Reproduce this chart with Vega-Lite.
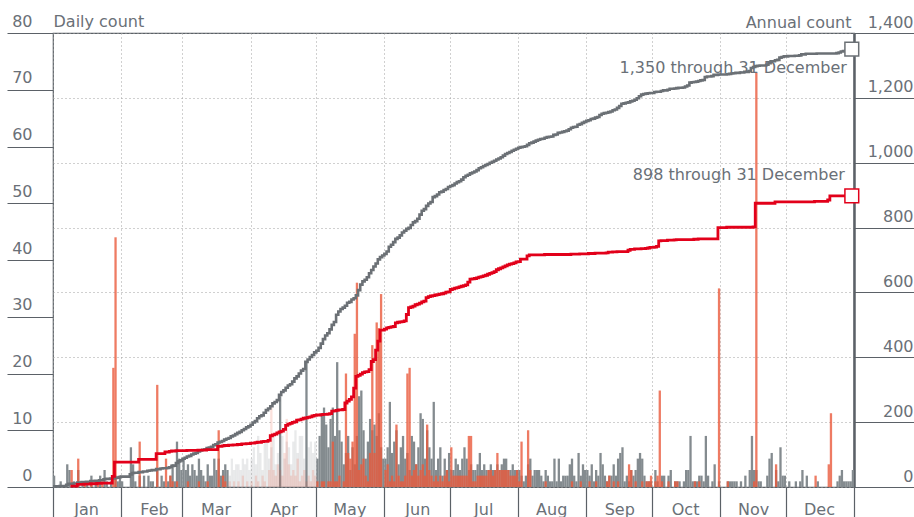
{
"$schema":"https://vega.github.io/schema/vega-lite/v6.json",
"width":801,"height":454,
"autosize":{"type":"none"},
"padding":{"left":53,"top":33,"right":60,"bottom":30},
"background":"white",
"config":{"view":{"stroke":"#5b6167","strokeWidth":1.2},"font":"DejaVu Sans","axis":{"labelFont":"DejaVu Sans","titleFont":"DejaVu Sans"}},
"datasets":{
"ends":[{"d":"2021-12-31","v":1350,"s":"total","label":"1,350 through 31 December"},{"d":"2021-12-31","v":898,"s":"sub","label":"898 through 31 December"}],
"daily":[
{"d":"2021-01-01","g":2,"o":0},{"d":"2021-01-02","g":0,"o":0},{"d":"2021-01-03","g":0,"o":0},{"d":"2021-01-04","g":1,"o":0},{"d":"2021-01-05","g":0,"o":0},{"d":"2021-01-06","g":0,"o":0},{"d":"2021-01-07","g":4,"o":0},{"d":"2021-01-08","g":3,"o":0},{"d":"2021-01-09","g":0,"o":3},{"d":"2021-01-10","g":1,"o":0},{"d":"2021-01-11","g":0,"o":0},{"d":"2021-01-12","g":3,"o":5},{"d":"2021-01-13","g":0,"o":0},{"d":"2021-01-14","g":1,"o":0},{"d":"2021-01-15","g":0,"o":1},{"d":"2021-01-16","g":1,"o":0},{"d":"2021-01-17","g":0,"o":0},{"d":"2021-01-18","g":2,"o":1},{"d":"2021-01-19","g":0,"o":0},{"d":"2021-01-20","g":1,"o":0},{"d":"2021-01-21","g":0,"o":1},{"d":"2021-01-22","g":2,"o":0},{"d":"2021-01-23","g":0,"o":1},{"d":"2021-01-24","g":3,"o":0},{"d":"2021-01-25","g":1,"o":0},{"d":"2021-01-26","g":0,"o":0},{"d":"2021-01-27","g":1,"o":0},{"d":"2021-01-28","g":0,"o":21},{"d":"2021-01-29","g":2,"o":44},{"d":"2021-01-30","g":1,"o":0},{"d":"2021-01-31","g":2,"o":0},
{"d":"2021-02-01","g":1,"o":0},{"d":"2021-02-02","g":0,"o":0},{"d":"2021-02-03","g":0,"o":0},{"d":"2021-02-04","g":0,"o":0},{"d":"2021-02-05","g":7,"o":0},{"d":"2021-02-06","g":4,"o":0},{"d":"2021-02-07","g":1,"o":0},{"d":"2021-02-08","g":0,"o":0},{"d":"2021-02-09","g":2,"o":8},{"d":"2021-02-10","g":0,"o":0},{"d":"2021-02-11","g":2,"o":0},{"d":"2021-02-12","g":0,"o":0},{"d":"2021-02-13","g":2,"o":0},{"d":"2021-02-14","g":1,"o":0},{"d":"2021-02-15","g":1,"o":0},{"d":"2021-02-16","g":0,"o":0},{"d":"2021-02-17","g":3,"o":18},{"d":"2021-02-18","g":0,"o":0},{"d":"2021-02-19","g":2,"o":0},{"d":"2021-02-20","g":1,"o":0},{"d":"2021-02-21","g":0,"o":5},{"d":"2021-02-22","g":1,"o":0},{"d":"2021-02-23","g":2,"o":2},{"d":"2021-02-24","g":4,"o":1},{"d":"2021-02-25","g":1,"o":0},{"d":"2021-02-26","g":8,"o":1},{"d":"2021-02-27","g":5,"o":0},{"d":"2021-02-28","g":3,"o":0},
{"d":"2021-03-01","g":5,"o":0},{"d":"2021-03-02","g":3,"o":0},{"d":"2021-03-03","g":4,"o":1},{"d":"2021-03-04","g":2,"o":0},{"d":"2021-03-05","g":4,"o":0},{"d":"2021-03-06","g":3,"o":0},{"d":"2021-03-07","g":2,"o":0},{"d":"2021-03-08","g":5,"o":1},{"d":"2021-03-09","g":3,"o":0},{"d":"2021-03-10","g":2,"o":0},{"d":"2021-03-11","g":1,"o":0},{"d":"2021-03-12","g":4,"o":1},{"d":"2021-03-13","g":2,"o":0},{"d":"2021-03-14","g":2,"o":0},{"d":"2021-03-15","g":5,"o":0},{"d":"2021-03-16","g":3,"o":0},{"d":"2021-03-17","g":5,"o":10},{"d":"2021-03-18","g":2,"o":0},{"d":"2021-03-19","g":3,"o":2},{"d":"2021-03-20","g":4,"o":1},{"d":"2021-03-21","g":3,"o":0},{"d":"2021-03-22","g":2,"o":1},{"d":"2021-03-23","g":5,"o":0},{"d":"2021-03-24","g":3,"o":1},{"d":"2021-03-25","g":4,"o":0},{"d":"2021-03-26","g":4,"o":1},{"d":"2021-03-27","g":3,"o":0},{"d":"2021-03-28","g":5,"o":2},{"d":"2021-03-29","g":4,"o":0},{"d":"2021-03-30","g":5,"o":1},{"d":"2021-03-31","g":3,"o":0},
{"d":"2021-04-01","g":5,"o":1},{"d":"2021-04-02","g":7,"o":0},{"d":"2021-04-03","g":4,"o":2},{"d":"2021-04-04","g":9,"o":1},{"d":"2021-04-05","g":6,"o":0},{"d":"2021-04-06","g":3,"o":2},{"d":"2021-04-07","g":8,"o":1},{"d":"2021-04-08","g":8,"o":0},{"d":"2021-04-09","g":5,"o":3},{"d":"2021-04-10","g":7,"o":14},{"d":"2021-04-11","g":9,"o":3},{"d":"2021-04-12","g":4,"o":2},{"d":"2021-04-13","g":6,"o":4},{"d":"2021-04-14","g":16,"o":3},{"d":"2021-04-15","g":9,"o":2},{"d":"2021-04-16","g":5,"o":6},{"d":"2021-04-17","g":8,"o":12},{"d":"2021-04-18","g":7,"o":4},{"d":"2021-04-19","g":4,"o":2},{"d":"2021-04-20","g":8,"o":3},{"d":"2021-04-21","g":10,"o":2},{"d":"2021-04-22","g":6,"o":5},{"d":"2021-04-23","g":9,"o":1},{"d":"2021-04-24","g":9,"o":2},{"d":"2021-04-25","g":5,"o":3},{"d":"2021-04-26","g":22,"o":1},{"d":"2021-04-27","g":7,"o":2},{"d":"2021-04-28","g":8,"o":1},{"d":"2021-04-29","g":6,"o":3},{"d":"2021-04-30","g":8,"o":2},
{"d":"2021-05-01","g":5,"o":1},{"d":"2021-05-02","g":9,"o":0},{"d":"2021-05-03","g":13,"o":1},{"d":"2021-05-04","g":14,"o":1},{"d":"2021-05-05","g":11,"o":0},{"d":"2021-05-06","g":7,"o":1},{"d":"2021-05-07","g":12,"o":1},{"d":"2021-05-08","g":14,"o":8},{"d":"2021-05-09","g":9,"o":1},{"d":"2021-05-10","g":22,"o":1},{"d":"2021-05-11","g":10,"o":2},{"d":"2021-05-12","g":8,"o":0},{"d":"2021-05-13","g":4,"o":1},{"d":"2021-05-14","g":6,"o":20},{"d":"2021-05-15","g":9,"o":6},{"d":"2021-05-16","g":3,"o":5},{"d":"2021-05-17","g":7,"o":8},{"d":"2021-05-18","g":4,"o":27},{"d":"2021-05-19","g":9,"o":36},{"d":"2021-05-20","g":16,"o":3},{"d":"2021-05-21","g":17,"o":4},{"d":"2021-05-22","g":10,"o":5},{"d":"2021-05-23","g":5,"o":2},{"d":"2021-05-24","g":8,"o":1},{"d":"2021-05-25","g":12,"o":6},{"d":"2021-05-26","g":10,"o":25},{"d":"2021-05-27","g":11,"o":6},{"d":"2021-05-28","g":9,"o":29},{"d":"2021-05-29","g":13,"o":28},{"d":"2021-05-30","g":7,"o":34},{"d":"2021-05-31","g":5,"o":0},
{"d":"2021-06-01","g":5,"o":3},{"d":"2021-06-02","g":7,"o":4},{"d":"2021-06-03","g":15,"o":1},{"d":"2021-06-04","g":6,"o":2},{"d":"2021-06-05","g":8,"o":1},{"d":"2021-06-06","g":10,"o":11},{"d":"2021-06-07","g":4,"o":2},{"d":"2021-06-08","g":7,"o":1},{"d":"2021-06-09","g":9,"o":1},{"d":"2021-06-10","g":5,"o":2},{"d":"2021-06-11","g":6,"o":20},{"d":"2021-06-12","g":3,"o":21},{"d":"2021-06-13","g":9,"o":2},{"d":"2021-06-14","g":8,"o":3},{"d":"2021-06-15","g":4,"o":4},{"d":"2021-06-16","g":7,"o":2},{"d":"2021-06-17","g":13,"o":3},{"d":"2021-06-18","g":12,"o":4},{"d":"2021-06-19","g":5,"o":2},{"d":"2021-06-20","g":10,"o":11},{"d":"2021-06-21","g":7,"o":3},{"d":"2021-06-22","g":5,"o":2},{"d":"2021-06-23","g":15,"o":1},{"d":"2021-06-24","g":3,"o":2},{"d":"2021-06-25","g":5,"o":1},{"d":"2021-06-26","g":7,"o":2},{"d":"2021-06-27","g":2,"o":1},{"d":"2021-06-28","g":5,"o":2},{"d":"2021-06-29","g":3,"o":3},{"d":"2021-06-30","g":6,"o":1},
{"d":"2021-07-01","g":3,"o":7},{"d":"2021-07-02","g":3,"o":2},{"d":"2021-07-03","g":5,"o":2},{"d":"2021-07-04","g":4,"o":2},{"d":"2021-07-05","g":3,"o":2},{"d":"2021-07-06","g":5,"o":2},{"d":"2021-07-07","g":7,"o":2},{"d":"2021-07-08","g":5,"o":2},{"d":"2021-07-09","g":3,"o":9},{"d":"2021-07-10","g":4,"o":9},{"d":"2021-07-11","g":3,"o":1},{"d":"2021-07-12","g":3,"o":1},{"d":"2021-07-13","g":4,"o":2},{"d":"2021-07-14","g":6,"o":2},{"d":"2021-07-15","g":3,"o":2},{"d":"2021-07-16","g":4,"o":2},{"d":"2021-07-17","g":3,"o":2},{"d":"2021-07-18","g":3,"o":3},{"d":"2021-07-19","g":4,"o":3},{"d":"2021-07-20","g":3,"o":2},{"d":"2021-07-21","g":3,"o":3},{"d":"2021-07-22","g":4,"o":6},{"d":"2021-07-23","g":3,"o":3},{"d":"2021-07-24","g":4,"o":3},{"d":"2021-07-25","g":5,"o":3},{"d":"2021-07-26","g":5,"o":3},{"d":"2021-07-27","g":3,"o":3},{"d":"2021-07-28","g":3,"o":2},{"d":"2021-07-29","g":4,"o":2},{"d":"2021-07-30","g":3,"o":2},{"d":"2021-07-31","g":3,"o":3},
{"d":"2021-08-01","g":3,"o":1},{"d":"2021-08-02","g":2,"o":8},{"d":"2021-08-03","g":1,"o":0},{"d":"2021-08-04","g":2,"o":0},{"d":"2021-08-05","g":4,"o":10},{"d":"2021-08-06","g":5,"o":3},{"d":"2021-08-07","g":2,"o":0},{"d":"2021-08-08","g":3,"o":0},{"d":"2021-08-09","g":3,"o":0},{"d":"2021-08-10","g":3,"o":0},{"d":"2021-08-11","g":2,"o":0},{"d":"2021-08-12","g":1,"o":0},{"d":"2021-08-13","g":3,"o":1},{"d":"2021-08-14","g":2,"o":0},{"d":"2021-08-15","g":1,"o":0},{"d":"2021-08-16","g":1,"o":0},{"d":"2021-08-17","g":5,"o":0},{"d":"2021-08-18","g":1,"o":0},{"d":"2021-08-19","g":5,"o":0},{"d":"2021-08-20","g":1,"o":0},{"d":"2021-08-21","g":2,"o":0},{"d":"2021-08-22","g":2,"o":0},{"d":"2021-08-23","g":2,"o":0},{"d":"2021-08-24","g":4,"o":0},{"d":"2021-08-25","g":5,"o":1},{"d":"2021-08-26","g":2,"o":0},{"d":"2021-08-27","g":1,"o":0},{"d":"2021-08-28","g":6,"o":0},{"d":"2021-08-29","g":2,"o":1},{"d":"2021-08-30","g":4,"o":0},{"d":"2021-08-31","g":3,"o":0},
{"d":"2021-09-01","g":3,"o":0},{"d":"2021-09-02","g":2,"o":1},{"d":"2021-09-03","g":4,"o":0},{"d":"2021-09-04","g":1,"o":0},{"d":"2021-09-05","g":3,"o":1},{"d":"2021-09-06","g":2,"o":0},{"d":"2021-09-07","g":6,"o":0},{"d":"2021-09-08","g":4,"o":0},{"d":"2021-09-09","g":2,"o":0},{"d":"2021-09-10","g":1,"o":1},{"d":"2021-09-11","g":2,"o":2},{"d":"2021-09-12","g":2,"o":0},{"d":"2021-09-13","g":4,"o":1},{"d":"2021-09-14","g":2,"o":0},{"d":"2021-09-15","g":5,"o":1},{"d":"2021-09-16","g":6,"o":0},{"d":"2021-09-17","g":7,"o":0},{"d":"2021-09-18","g":1,"o":0},{"d":"2021-09-19","g":2,"o":0},{"d":"2021-09-20","g":1,"o":4},{"d":"2021-09-21","g":3,"o":3},{"d":"2021-09-22","g":2,"o":0},{"d":"2021-09-23","g":3,"o":1},{"d":"2021-09-24","g":5,"o":0},{"d":"2021-09-25","g":6,"o":0},{"d":"2021-09-26","g":5,"o":1},{"d":"2021-09-27","g":2,"o":0},{"d":"2021-09-28","g":1,"o":1},{"d":"2021-09-29","g":1,"o":1},{"d":"2021-09-30","g":1,"o":2},
{"d":"2021-10-01","g":0,"o":0},{"d":"2021-10-02","g":3,"o":1},{"d":"2021-10-03","g":1,"o":2},{"d":"2021-10-04","g":0,"o":17},{"d":"2021-10-05","g":2,"o":1},{"d":"2021-10-06","g":2,"o":0},{"d":"2021-10-07","g":0,"o":0},{"d":"2021-10-08","g":2,"o":1},{"d":"2021-10-09","g":3,"o":0},{"d":"2021-10-10","g":0,"o":0},{"d":"2021-10-11","g":1,"o":1},{"d":"2021-10-12","g":1,"o":1},{"d":"2021-10-13","g":1,"o":0},{"d":"2021-10-14","g":0,"o":0},{"d":"2021-10-15","g":1,"o":0},{"d":"2021-10-16","g":3,"o":0},{"d":"2021-10-17","g":3,"o":0},{"d":"2021-10-18","g":9,"o":0},{"d":"2021-10-19","g":1,"o":0},{"d":"2021-10-20","g":1,"o":1},{"d":"2021-10-21","g":1,"o":0},{"d":"2021-10-22","g":2,"o":1},{"d":"2021-10-23","g":2,"o":0},{"d":"2021-10-24","g":1,"o":0},{"d":"2021-10-25","g":9,"o":0},{"d":"2021-10-26","g":2,"o":0},{"d":"2021-10-27","g":0,"o":0},{"d":"2021-10-28","g":1,"o":0},{"d":"2021-10-29","g":4,"o":0},{"d":"2021-10-30","g":0,"o":0},{"d":"2021-10-31","g":1,"o":35},
{"d":"2021-11-01","g":0,"o":0},{"d":"2021-11-02","g":0,"o":0},{"d":"2021-11-03","g":0,"o":0},{"d":"2021-11-04","g":1,"o":1},{"d":"2021-11-05","g":1,"o":0},{"d":"2021-11-06","g":1,"o":0},{"d":"2021-11-07","g":1,"o":0},{"d":"2021-11-08","g":1,"o":0},{"d":"2021-11-09","g":0,"o":0},{"d":"2021-11-10","g":1,"o":0},{"d":"2021-11-11","g":0,"o":0},{"d":"2021-11-12","g":2,"o":0},{"d":"2021-11-13","g":0,"o":0},{"d":"2021-11-14","g":3,"o":0},{"d":"2021-11-15","g":9,"o":0},{"d":"2021-11-16","g":3,"o":1},{"d":"2021-11-17","g":3,"o":73},{"d":"2021-11-18","g":1,"o":0},{"d":"2021-11-19","g":1,"o":0},{"d":"2021-11-20","g":0,"o":0},{"d":"2021-11-21","g":0,"o":0},{"d":"2021-11-22","g":2,"o":0},{"d":"2021-11-23","g":5,"o":0},{"d":"2021-11-24","g":6,"o":0},{"d":"2021-11-25","g":0,"o":0},{"d":"2021-11-26","g":3,"o":4},{"d":"2021-11-27","g":1,"o":0},{"d":"2021-11-28","g":7,"o":0},{"d":"2021-11-29","g":2,"o":0},{"d":"2021-11-30","g":2,"o":0},
{"d":"2021-12-01","g":0,"o":0},{"d":"2021-12-02","g":1,"o":0},{"d":"2021-12-03","g":0,"o":0},{"d":"2021-12-04","g":0,"o":0},{"d":"2021-12-05","g":1,"o":0},{"d":"2021-12-06","g":0,"o":0},{"d":"2021-12-07","g":1,"o":0},{"d":"2021-12-08","g":3,"o":0},{"d":"2021-12-09","g":0,"o":0},{"d":"2021-12-10","g":2,"o":0},{"d":"2021-12-11","g":0,"o":0},{"d":"2021-12-12","g":0,"o":0},{"d":"2021-12-13","g":0,"o":0},{"d":"2021-12-14","g":0,"o":2},{"d":"2021-12-15","g":1,"o":0},{"d":"2021-12-16","g":0,"o":0},{"d":"2021-12-17","g":0,"o":0},{"d":"2021-12-18","g":0,"o":0},{"d":"2021-12-19","g":0,"o":0},{"d":"2021-12-20","g":0,"o":4},{"d":"2021-12-21","g":0,"o":13},{"d":"2021-12-22","g":0,"o":0},{"d":"2021-12-23","g":0,"o":0},{"d":"2021-12-24","g":1,"o":0},{"d":"2021-12-25","g":2,"o":0},{"d":"2021-12-26","g":3,"o":0},{"d":"2021-12-27","g":1,"o":0},{"d":"2021-12-28","g":1,"o":0},{"d":"2021-12-29","g":1,"o":0},{"d":"2021-12-30","g":1,"o":0},{"d":"2021-12-31","g":3,"o":0}
]},
"data":{"name":"daily"},
"layer":[
{"layer":[
 {"mark":{"type":"bar","color":"#848b8f","width":2.3,"xOffset":1.1},
  "encoding":{
   "x":{"field":"d","type":"temporal",
        "scale":{"type":"utc","padding":0,"domain":[{"year":2021,"month":1,"date":1,"utc":true},{"year":2022,"month":1,"date":1,"utc":true}]},
        "axis":{"values":[{"year":2021,"month":1,"date":1,"utc":true},{"year":2021,"month":2,"date":1,"utc":true},{"year":2021,"month":3,"date":1,"utc":true},{"year":2021,"month":4,"date":1,"utc":true},{"year":2021,"month":5,"date":1,"utc":true},{"year":2021,"month":6,"date":1,"utc":true},{"year":2021,"month":7,"date":1,"utc":true},{"year":2021,"month":8,"date":1,"utc":true},{"year":2021,"month":9,"date":1,"utc":true},{"year":2021,"month":10,"date":1,"utc":true},{"year":2021,"month":11,"date":1,"utc":true},{"year":2021,"month":12,"date":1,"utc":true},{"year":2022,"month":1,"date":1,"utc":true}],
          "labelExpr":"utcyear(datum.value) > 2021 ? '' : utcFormat(datum.value, '%b')",
          "title":null,"domain":false,"tickSize":30,"tickColor":"#5b6167","tickWidth":1.2,
          "labelOffset":33,"labelPadding":-3,"labelBaseline":"alphabetic","labelAlign":"center","labelFontSize":16,"labelColor":"#6a7077","labelFlush":false,"labelOverlap":false,
          "grid":true,"gridDash":[1,3],"gridColor":"#a0a0a0","gridWidth":1}},
   "y":{"field":"g","type":"quantitative","scale":{"domain":[0,80]},
        "axis":{"orient":"left","values":[0,10,20,30,40,50,60,70,80],"tickSize":46,"tickColor":"#5b6167","tickWidth":1.2,"domain":false,"grid":false,
          "labelAlign":"right","labelPadding":-25,"labelBaseline":"alphabetic","labelOffset":-7,"labelFontSize":16,"labelColor":"#6a7077","labelFlush":false,"labelOverlap":false,
          "title":"Daily count","titleAngle":0,"titleAlign":"left","titleBaseline":"alphabetic","titleX":0,"titleY":-7,"titleFontSize":16,"titleFontWeight":"normal","titleColor":"#6a7077"}},
   "opacity":{"condition":{"test":"time(datum.d) >= time('2021-03-22') && time(datum.d) <= time('2021-04-30') && time(datum.d) != time('2021-04-14') && time(datum.d) != time('2021-04-26')","value":0.18},"value":1}
  }},
 {"mark":{"type":"bar","color":"#ea5a3c","width":2.3,"xOffset":1.1},
  "encoding":{
   "x":{"field":"d","type":"temporal"},
   "y":{"field":"o","type":"quantitative"},
   "opacity":{"condition":{"test":"time(datum.d) >= time('2021-03-22') && time(datum.d) <= time('2021-04-30')","value":0.18},"value":0.8}
  }}
]},
{"layer":[
 {"transform":[{"window":[{"op":"sum","field":"g","as":"cum"}],"sort":[{"field":"d","order":"ascending"}]},{"filter":"datum.cum > 0"}],
  "mark":{"type":"line","interpolate":"step-after","color":"#6b7075","strokeWidth":2.6},
  "encoding":{
   "x":{"field":"d","type":"temporal"},
   "y":{"field":"cum","type":"quantitative","scale":{"domain":[0,1400]},
        "axis":{"orient":"right","values":[0,200,400,600,800,1000,1200,1400],"tickSize":60,"tickColor":"#5b6167","tickWidth":1.2,"domain":true,"domainColor":"#5b6167","domainWidth":2.5,
          "grid":true,"gridDash":[1,3],"gridColor":"#a0a0a0","gridWidth":1,
          "labelAlign":"right","labelPadding":-1,"labelBaseline":"alphabetic","labelOffset":-6,"labelFontSize":16,"labelColor":"#6a7077","labelFlush":false,"labelOverlap":false,
          "title":"Annual count","titleAngle":0,"titleAlign":"right","titleBaseline":"alphabetic","titleX":-3,"titleY":-6,"titleFontSize":16,"titleFontWeight":"normal","titleColor":"#6a7077"}}
  }},
 {"transform":[{"window":[{"op":"sum","field":"o","as":"cum"}],"sort":[{"field":"d","order":"ascending"}]},{"filter":"datum.cum > 0"}],
  "mark":{"type":"line","interpolate":"step-after","color":"#e2001a","strokeWidth":2.8},
  "encoding":{
   "x":{"field":"d","type":"temporal"},
   "y":{"field":"cum","type":"quantitative"}
  }},
 {"data":{"name":"ends"},
  "mark":{"type":"point","shape":"square","filled":false,"fill":"white","fillOpacity":1,"size":190,"strokeWidth":1.5,"opacity":1},
  "encoding":{
   "x":{"field":"d","type":"temporal"},
   "y":{"field":"v","type":"quantitative"},
   "stroke":{"field":"s","type":"nominal","scale":{"domain":["total","sub"],"range":["#6b7075","#e2001a"]},"legend":null}
  }},
 {"data":{"name":"ends"},
  "transform":[{"filter":"datum.s == 'total'"}],
  "mark":{"type":"text","align":"right","baseline":"middle","dx":-5,"dy":19,"fontSize":16,"color":"#6a7077","font":"DejaVu Sans"},
  "encoding":{
   "x":{"field":"d","type":"temporal"},
   "y":{"field":"v","type":"quantitative"},
   "text":{"field":"label"}
  }},
 {"data":{"name":"ends"},
  "transform":[{"filter":"datum.s == 'sub'"}],
  "mark":{"type":"text","align":"right","baseline":"middle","dx":-7,"dy":-21,"fontSize":16,"color":"#6a7077","font":"DejaVu Sans"},
  "encoding":{
   "x":{"field":"d","type":"temporal"},
   "y":{"field":"v","type":"quantitative"},
   "text":{"field":"label"}
  }}
]}
],
"resolve":{"scale":{"y":"independent"}}
}
